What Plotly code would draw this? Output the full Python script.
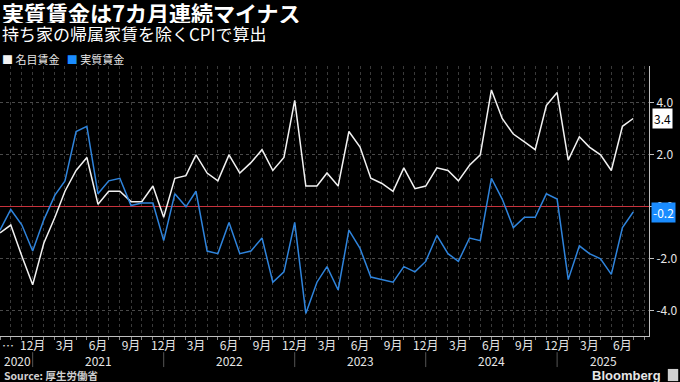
import pandas as pd
import plotly.graph_objects as go

# ---- data ----
months = pd.date_range("2020-09-01", periods=59, freq="MS")
nominal_wages = [-1.0, -0.7, -1.9, -3.0, -1.4, -0.4, 0.6, 1.4, 1.9, 0.1, 0.6, 0.6,
                 0.2, 0.2, 0.8, -0.4, 1.1, 1.2, 2.0, 1.3, 1.0, 2.0, 1.3, 1.7,
                 2.2, 1.4, 1.9, 4.1, 0.8, 0.8, 1.3, 0.8, 2.9, 2.3, 1.1, 0.9,
                 0.6, 1.5, 0.7, 0.8, 1.5, 1.4, 1.0, 1.6, 2.0, 4.5, 3.4, 2.8,
                 2.5, 2.2, 3.9, 4.4, 1.8, 2.7, 2.3, 2.0, 1.4, 3.1, 3.4]
real_wages = [-0.9, -0.1, -0.7, -1.7, -0.5, 0.45, 1.0, 2.9, 3.1, 0.5, 1.0, 1.1,
              0.05, 0.15, 0.15, -1.3, 0.5, 0.0, 0.6, -1.7, -1.8, -0.6, -1.8, -1.7,
              -1.2, -2.9, -2.5, -0.6, -4.1, -2.9, -2.3, -3.2, -0.9, -1.6, -2.7, -2.8,
              -2.9, -2.3, -2.5, -2.1, -1.1, -1.8, -2.1, -1.2, -1.3, 1.1, 0.3, -0.8,
              -0.4, -0.4, 0.5, 0.3, -2.8, -1.5, -1.8, -2.0, -2.6, -0.8, -0.2]
series_names = ["名目賃金", "実質賃金"]
x_tick_dates = pd.date_range("2020-12-01", "2025-06-01", freq="3MS")
x_tick_labels = [f"{d.month}月" for d in x_tick_dates]
year_labels = ["2020", "2021", "2022", "2023", "2024", "2025"]
year_label_dates = ["2020-09-06", "2021-06-01", "2022-06-01", "2023-06-01", "2024-06-01", "2025-04-10"]
year_sep_dates = ["2020-12-01", "2021-12-01", "2022-12-01", "2023-12-01", "2024-12-01"]
y_ticks = [-4, -2, 0, 2, 4]

WHITE = "#f2f2f2"
BLUE = "#2f84dc"
FONT = "Noto Sans CJK JP"

fig = go.Figure()
fig.add_trace(go.Scatter(x=months, y=nominal_wages, mode="lines", name=series_names[0],
                         line=dict(color=WHITE, width=1.5)))
fig.add_trace(go.Scatter(x=months, y=real_wages, mode="lines", name=series_names[1],
                         line=dict(color=BLUE, width=1.5)))

fig.update_layout(
    width=680, height=382,
    paper_bgcolor="black", plot_bgcolor="black",
    margin=dict(l=0, r=31, t=66, b=46),
    showlegend=False,
    font=dict(family=FONT, color="#e6e6e6", size=12),
)
fig.update_xaxes(
    type="date", range=["2020-09-01", "2025-08-14"],
    tickvals=list(x_tick_dates), ticktext=x_tick_labels,
    tickfont=dict(size=12, color="#e6e6e6"),
    showline=True, linecolor="#bfbfbf", linewidth=1,
    ticks="outside", ticklen=3, tickcolor="#888",
    ticklabelstandoff=-4,
    showgrid=True, gridcolor="#3a3a3a", griddash="dot", gridwidth=1,
    minor=dict(dtick="M1", tick0="2020-09-01", showgrid=True, gridcolor="#3a3a3a",
               griddash="dot", ticks="outside", ticklen=3, tickcolor="#888"),
    zeroline=False, automargin=False,
)
fig.update_yaxes(
    range=[-4.97, 5.42], side="right",
    tickvals=y_ticks, ticktext=[f"{v:.1f}" for v in y_ticks],
    tickfont=dict(size=12, color="#e6e6e6"),
    showline=True, linecolor="#bfbfbf", linewidth=1,
    ticks="outside", ticklen=4, tickcolor="#bfbfbf",
    showgrid=True, gridcolor="#4a4a4a", griddash="dot", gridwidth=1,
    zeroline=True, zerolinecolor="#c8323c", zerolinewidth=1,
    automargin=False,
)

ann = []
ann.append(dict(text="<b>実質賃金は7カ月連続マイナス</b>", xref="paper", yref="paper",
                x=0.0, y=1.199, xanchor="left", yanchor="middle", showarrow=False,
                height=22, font=dict(size=22, color="white", family=FONT)))
ann.append(dict(text="持ち家の帰属家賃を除くCPIで算出", xref="paper", yref="paper",
                x=0.0, y=1.122, xanchor="left", yanchor="middle", showarrow=False,
                height=18, font=dict(size=17, color="white", family=FONT)))
ann.append(dict(text=f"<span style='color:{WHITE}'>■</span> {series_names[0]}   "
                     f"<span style='color:#1a8cff'>■</span> {series_names[1]}",
                xref="paper", yref="paper", x=0.0, y=1.026, xanchor="left",
                yanchor="middle", showarrow=False, height=13,
                font=dict(size=11, color="#e6e6e6", family=FONT)))
# value badges
ann.append(dict(text="3.4", xref="paper", yref="y", x=1.0, xshift=3, y=nominal_wages[-1],
                xanchor="left", yanchor="middle", showarrow=False, bgcolor="white",
                borderpad=1, font=dict(size=12, color="black", family=FONT)))
ann.append(dict(text="-0.2", xref="paper", yref="y", x=1.0, xshift=2, y=real_wages[-1],
                xanchor="left", yanchor="middle", showarrow=False, bgcolor="#1a8cff",
                borderpad=1, font=dict(size=12, color="white", family=FONT)))
# ellipsis before first month label
ann.append(dict(text="…", xref="paper", yref="paper", x=0.0, y=-0.033, xanchor="left",
                yanchor="middle", showarrow=False, height=12,
                font=dict(size=12, color="#e6e6e6")))
for lab, d in zip(year_labels, year_label_dates):
    ann.append(dict(text=lab, xref="x", yref="paper", x=d, y=-0.089,
                    xanchor="center" if lab != "2020" else "left", yanchor="middle",
                    showarrow=False, height=13,
                    font=dict(size=12, color="#e6e6e6", family=FONT)))
ann.append(dict(text="<b>Source: 厚生労働省</b>", xref="paper", yref="paper", x=0.003,
                y=-0.143, xanchor="left", yanchor="middle", showarrow=False, height=12,
                font=dict(size=10.5, color="#d0d0d0", family=FONT)))
ann.append(dict(text="<b>Bloomberg</b>", xref="paper", yref="paper", x=1.022,
                y=-0.143, xanchor="right", yanchor="middle", showarrow=False, height=14,
                font=dict(size=13, color="#e6e6e6", family="Liberation Sans")))
fig.update_layout(annotations=ann)

shapes = []
for d in year_sep_dates:
    shapes.append(dict(type="line", xref="x", yref="paper", x0=d, x1=d,
                       y0=-0.06, y1=-0.115, line=dict(color="#555", width=1)))
# Bloomberg logo box
shapes.append(dict(type="rect", xref="paper", yref="paper", x0=1.029, x1=1.045,
                   y0=-0.167, y1=-0.122, fillcolor="#cfcfcf", line=dict(width=0)))
fig.update_layout(shapes=shapes)

fig.write_html("out.html", config={"displayModeBar": False},
               post_script="document.body.style.margin='0';document.body.style.background='black';")
